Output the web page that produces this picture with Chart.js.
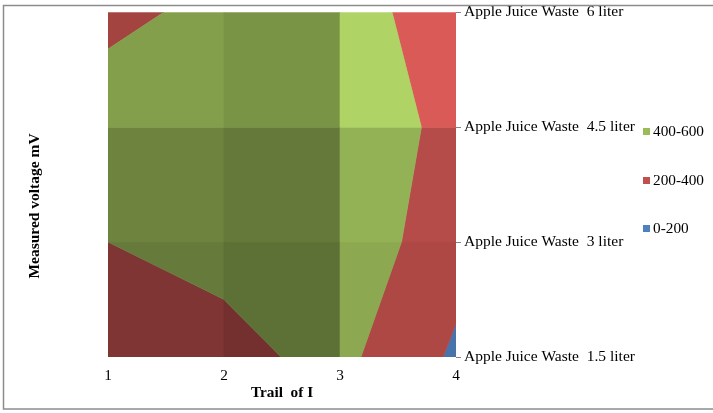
<!DOCTYPE html>
<html>
<head>
<meta charset="utf-8">
<script src="https://cdn.jsdelivr.net/npm/chart.js@4"></script>
<style>
html,body{margin:0;padding:0;background:#fff;}
#wrap{width:713px;height:413px;position:relative;}
</style>
</head>
<body>
<div id="wrap"><canvas id="c" width="713" height="413"></canvas></div>
<script>
// ---- data ----
const trials = [1, 2, 3, 4];
const volumeValues = [1.5, 3, 4.5, 6];
const volumeLabels = ['Apple Juice Waste  1.5 liter', 'Apple Juice Waste  3 liter', 'Apple Juice Waste  4.5 liter', 'Apple Juice Waste  6 liter'];
const mv1_5 = [300, 351, 451, 169];
const mv3 = [400, 449, 540, 276];
const mv4_5 = [500, 520, 520, 349];
const mv6 = [353, 451, 480, 302];
const bandLabels = ['0-200', '200-400', '400-600'];
const bandLimits = [0, 200, 400, 600];
const xTitle = 'Trail  of I';
const yTitle = 'Measured voltage mV';

// ---- style ----
const bandColors = [[79,129,189],[192,80,77],[155,187,89]];
// lighting factor per cell, rows bottom->top, cols left->right
const cellShade = [
  [0.66, 0.60, 0.90],
  [0.70, 0.65, 0.95],
  [0.85, 0.79, 1.13]
];
const serif = "'Liberation Serif','Times New Roman',serif";

const grid = [mv1_5, mv3, mv4_5, mv6];

function shade(rgb, f) {
  const c = rgb.map(v => Math.max(0, Math.min(255, Math.round(v * f))));
  return 'rgb(' + c.join(',') + ')';
}

function bandPoly(pts, zs, lo, hi) {
  const out = [];
  for (let k = 0; k < 4; k++) {
    const A = pts[k], B = pts[(k + 1) % 4];
    const za = zs[k], zb = zs[(k + 1) % 4];
    if (za >= lo && za < hi) out.push(A);
    const ts = [];
    for (const lev of [lo, hi]) {
      if ((za < lev && zb >= lev) || (za >= lev && zb < lev)) {
        ts.push((lev - za) / (zb - za));
      }
    }
    ts.sort((a, b) => a - b);
    for (const t of ts) out.push({x: A.x + (B.x - A.x) * t, y: A.y + (B.y - A.y) * t});
  }
  return out;
}

const contourPlugin = {
  id: 'contour',
  beforeDatasetsDraw(chart) {
    const {ctx, chartArea, scales} = chart;
    const xs = scales.x, ys = scales.y;
    ctx.save();
    ctx.beginPath();
    ctx.rect(chartArea.left, chartArea.top, chartArea.right - chartArea.left, chartArea.bottom - chartArea.top);
    ctx.clip();
    for (let j = 0; j < volumeValues.length - 1; j++) {
      for (let i = 0; i < trials.length - 1; i++) {
        const pts = [
          {x: trials[i], y: volumeValues[j]},
          {x: trials[i + 1], y: volumeValues[j]},
          {x: trials[i + 1], y: volumeValues[j + 1]},
          {x: trials[i], y: volumeValues[j + 1]}
        ];
        const zs = [grid[j][i], grid[j][i + 1], grid[j + 1][i + 1], grid[j + 1][i]];
        for (let b = 0; b < bandColors.length; b++) {
          const poly = bandPoly(pts, zs, bandLimits[b], bandLimits[b + 1]);
          if (poly.length < 3) continue;
          ctx.beginPath();
          poly.forEach((p, n) => {
            const px = xs.getPixelForValue(p.x), py = ys.getPixelForValue(p.y);
            if (n === 0) ctx.moveTo(px, py); else ctx.lineTo(px, py);
          });
          ctx.closePath();
          const col = shade(bandColors[b], cellShade[j][i]);
          ctx.fillStyle = col;
          ctx.strokeStyle = col;
          ctx.lineWidth = 0.6;
          ctx.fill();
          ctx.stroke();
        }
      }
    }
    ctx.restore();
  },
  afterDraw(chart) {
    const {ctx} = chart;
    ctx.save();
    // outer frame
    ctx.strokeStyle = '#8c8c8c';
    ctx.lineWidth = 1.5;
    ctx.strokeRect(3.5, 5.5, 720, 403.5);
    // y title
    ctx.fillStyle = '#000';
    ctx.font = 'bold 15.5px ' + serif;
    ctx.textAlign = 'center';
    ctx.textBaseline = 'middle';
    ctx.translate(35, 206);
    ctx.rotate(-Math.PI / 2);
    ctx.fillText(yTitle, 0, 0);
    ctx.restore();
    // legend
    ctx.save();
    ctx.font = '15.3px ' + serif;
    ctx.textBaseline = 'middle';
    ctx.textAlign = 'left';
    const legendY = [131, 180, 228];
    for (let n = 0; n < bandLabels.length; n++) {
      const b = bandLabels.length - 1 - n;
      ctx.fillStyle = shade(bandColors[b], 1);
      ctx.fillRect(643, legendY[n] - 3, 7, 7);
      ctx.fillStyle = '#000';
      ctx.fillText(bandLabels[b], 653, legendY[n] + 1);
    }
    ctx.restore();
  }
};

new Chart(document.getElementById('c'), {
  type: 'scatter',
  data: {
    datasets: bandLabels.map((l, b) => ({label: l, data: [], backgroundColor: shade(bandColors[b], 1)}))
  },
  options: {
    responsive: false,
    animation: false,
    events: [],
    layout: {padding: {left: 108, top: 11, right: 0, bottom: 0}},
    plugins: {legend: {display: false}, tooltip: {enabled: false}},
    scales: {
      x: {
        type: 'linear',
        min: 1, max: 4,
        afterBuildTicks: s => { s.ticks = trials.map(v => ({value: v})); },
        afterFit: s => { s.height = 56; },
        grid: {display: true, drawOnChartArea: false, drawTicks: false},
        border: {display: false},
        ticks: {color: '#000', font: {family: serif, size: 15.3}, padding: 10, callback: v => String(v), maxRotation: 0},
        title: {display: true, text: xTitle, color: '#000', font: {family: serif, size: 15.3, weight: 'bold'}, padding: {top: 0, bottom: 11}}
      },
      y: {
        type: 'linear',
        position: 'right',
        min: 1.5, max: 6,
        afterBuildTicks: s => { s.ticks = volumeValues.map(v => ({value: v})); },
        afterFit: s => { s.width = 257; },
        grid: {display: true, drawOnChartArea: false, drawTicks: true, tickLength: 5, color: '#868686'},
        border: {display: false},
        ticks: {color: '#000', font: {family: serif, size: 15.5}, padding: 3,
          callback: v => { const k = volumeValues.indexOf(v); return k >= 0 ? volumeLabels[k] : ''; }}
      }
    }
  },
  plugins: [contourPlugin]
});
</script>
</body>
</html>
